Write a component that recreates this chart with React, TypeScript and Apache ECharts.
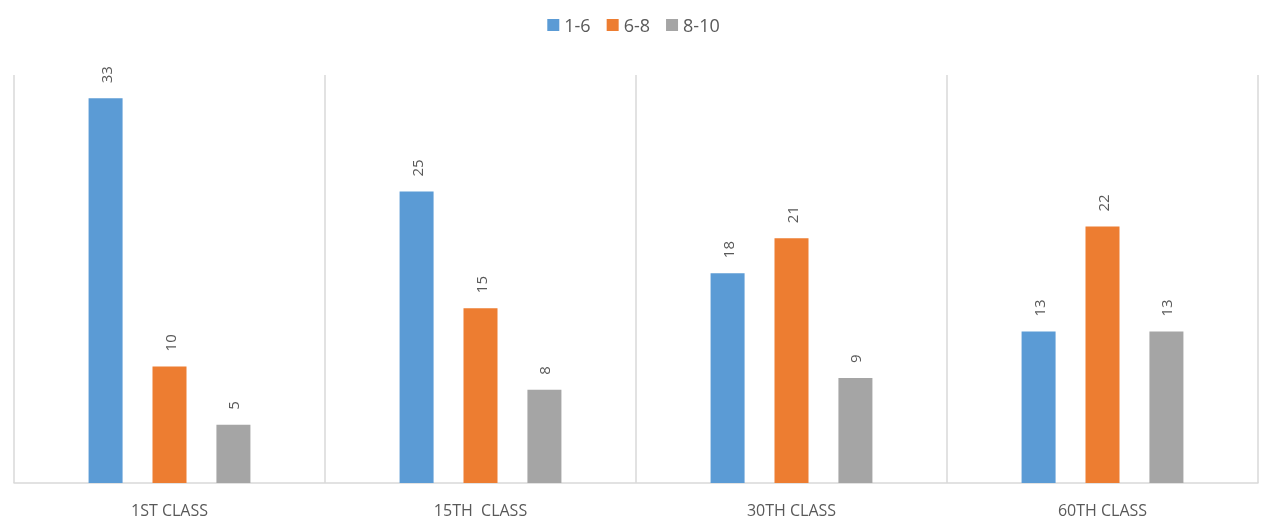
import React, { useEffect, useRef } from "react";
import * as echarts from "echarts";

const categories = ["1ST CLASS", "15TH  CLASS", "30TH CLASS", "60TH CLASS"];
const seriesNames = ["1-6", "6-8", "8-10"];
const s1 = [33, 25, 18, 13];
const s2 = [10, 15, 21, 22];
const s3 = [5, 8, 9, 13];
const colors = ["#5B9BD5", "#ED7D31", "#A5A5A5"];

export default function App() {
  const ref = useRef<HTMLDivElement>(null);
  useEffect(() => {
    const chart = echarts.init(ref.current!, null, { renderer: "svg" });
    const font = "'Open Sans', 'Noto Sans', 'Liberation Sans', sans-serif";
    const mk = (name: string, data: number[], color: string) => ({
      name,
      type: "bar",
      data,
      barWidth: 34,
      barGap: "88%",
      itemStyle: { color },
      label: {
        show: true,
        position: "top",
        rotate: 90,
        distance: 15,
        align: "left",
        verticalAlign: "middle",
        color: "#595959",
        fontSize: 15,
        fontFamily: font,
      },
    });
    chart.setOption({
      animation: false,
      textStyle: { fontFamily: font },
      legend: {
        top: 11,
        left: "center",
        icon: "rect",
        itemWidth: 12,
        itemHeight: 12,
        itemGap: 16,
        textStyle: { fontSize: 18, color: "#595959", fontFamily: font },
        data: seriesNames,
      },
      grid: { left: 14, right: 9, top: 75, bottom: 40 },
      xAxis: {
        type: "category",
        data: categories,
        axisLine: { show: true, lineStyle: { color: "#d9d9d9", width: 1.5 } },
        axisTick: { show: false },
        splitLine: { show: true, lineStyle: { color: "#d9d9d9", width: 1.5 } },
        axisLabel: { color: "#595959", fontSize: 16, margin: 19, fontFamily: font },
      },
      yAxis: {
        type: "value",
        min: 0,
        max: 35,
        show: false,
        splitLine: { show: false },
      },
      series: [
        mk(seriesNames[0], s1, colors[0]),
        mk(seriesNames[1], s2, colors[1]),
        mk(seriesNames[2], s3, colors[2]),
      ],
    });
    return () => chart.dispose();
  }, []);
  return (
    <div
      ref={ref}
      style={{ position: "fixed", left: 0, top: 0, width: 1267, height: 523 }}
    />
  );
}
